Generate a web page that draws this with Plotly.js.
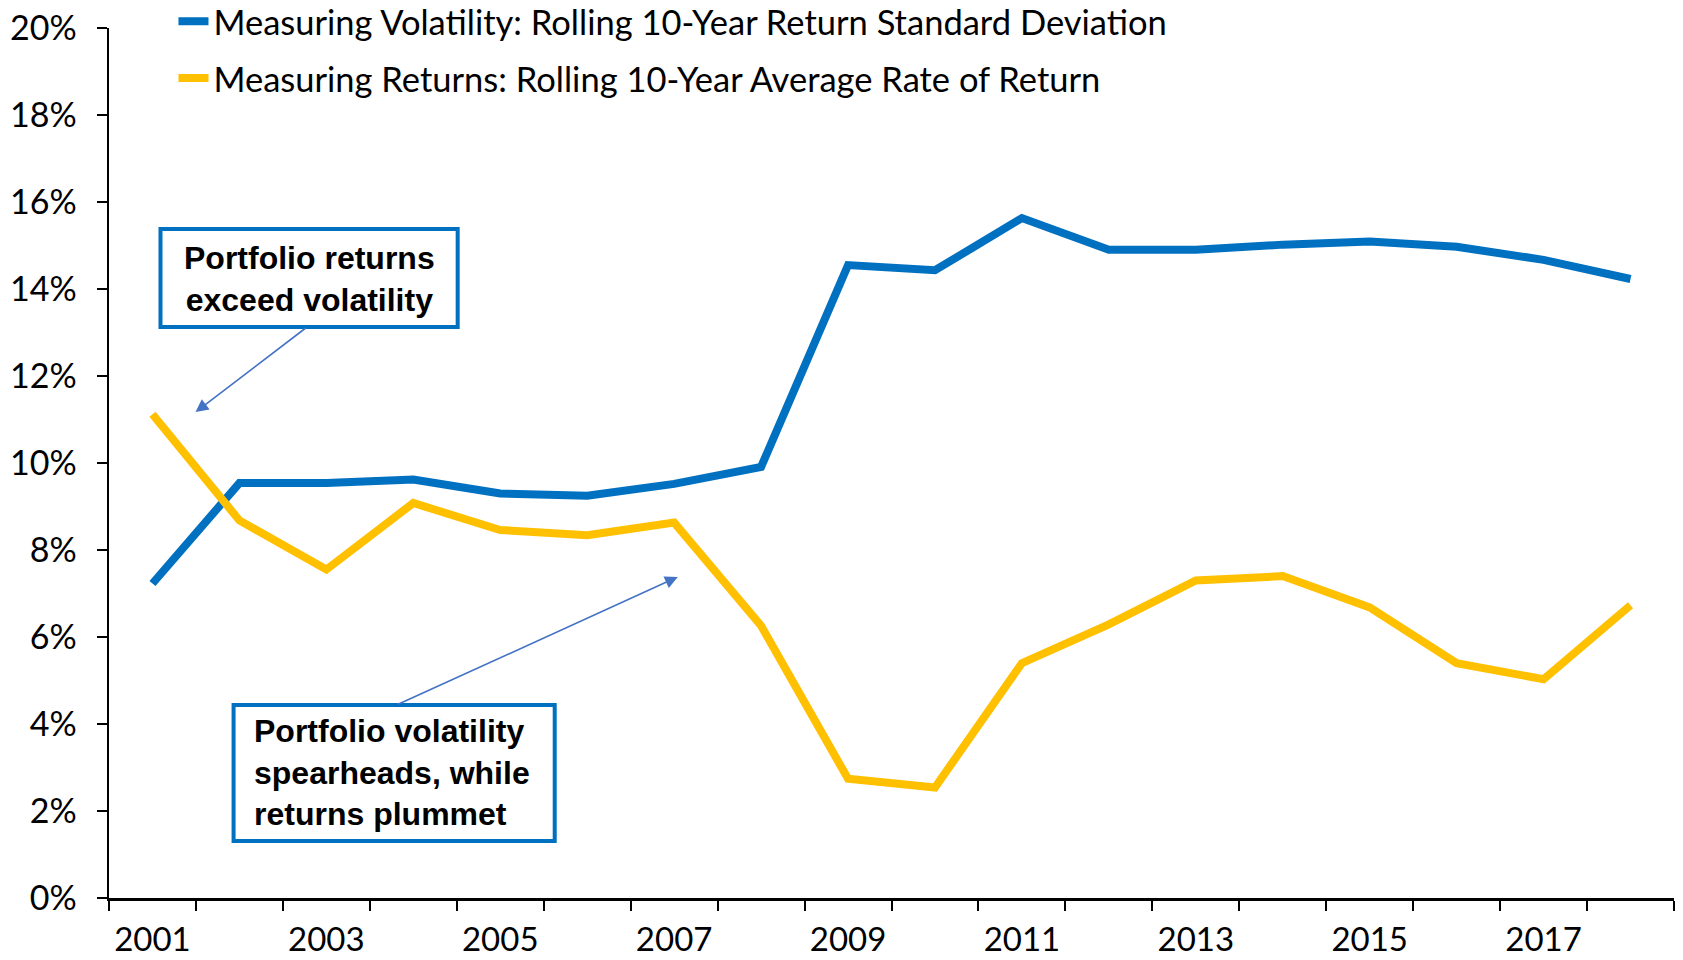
<!DOCTYPE html>
<html>
<head>
<meta charset="utf-8">
<script src="https://cdn.plot.ly/plotly-3.0.1.min.js"></script>
<style>html,body{margin:0;padding:0;background:#fff;}#chart{width:1683px;height:960px;}</style>
</head>
<body>
<div id="chart"></div>
<script>
const years = [2001,2002,2003,2004,2005,2006,2007,2008,2009,2010,2011,2012,2013,2014,2015,2016,2017,2018];
const volatility = [0.0723,0.0954,0.0954,0.0962,0.0930,0.0925,0.0952,0.0991,0.1455,0.1443,0.1563,0.1490,0.1490,0.1502,0.1509,0.1497,0.1467,0.1423];
const returns = [0.1112,0.0868,0.0755,0.0908,0.0846,0.0834,0.0863,0.0626,0.0274,0.0254,0.0540,0.0629,0.0730,0.0740,0.0668,0.0540,0.0503,0.0673];
const seriesNames = ["Measuring Volatility: Rolling 10-Year Return Standard Deviation","Measuring Returns: Rolling 10-Year Average Rate of Return"];
const labelYears = [2001,2003,2005,2007,2009,2011,2013,2015,2017];
const yTicks = [0,0.02,0.04,0.06,0.08,0.10,0.12,0.14,0.16,0.18,0.20];

const boundaries = years.map(y => y - 0.5).concat([years[years.length-1] + 0.5]);

const traces = [
  {x: years, y: volatility, name: seriesNames[0], type: 'scatter', mode: 'lines',
   line: {color: '#0070C0', width: 8}, legendgroup: 'a'},
  {x: years, y: returns, name: seriesNames[1], type: 'scatter', mode: 'lines',
   line: {color: '#FFC000', width: 8}, legendgroup: 'b'}
];

const annFont = {family: 'Liberation Sans, Arial, sans-serif', size: 32, color: '#000'};

const layout = {
  width: 1683, height: 960,
  margin: {l: 109, r: 9, t: 28, b: 62, autoexpand: false},
  paper_bgcolor: '#fff', plot_bgcolor: '#fff',
  font: {family: 'Lato, sans-serif', size: 34, color: '#000'},
  showlegend: true,
  legend: {x: 0.0412, xanchor: 'left', y: 1.041, yanchor: 'top', bgcolor: 'rgba(0,0,0,0)',
           font: {size: 34.5, color: '#000'}, tracegroupgap: 9, traceorder: 'grouped'},
  xaxis: {type: 'linear', range: [years[0]-0.5, years[years.length-1]+0.5],
          tickmode: 'array', tickvals: labelYears, ticktext: labelYears.map(String),
          ticks: '', showgrid: false, zeroline: false, showline: true, linecolor: '#000', linewidth: 2.5,
          ticklabelstandoff: 11, tickfont: {size: 33},
          minor: {tickmode: 'array', tickvals: boundaries, ticks: 'outside', ticklen: 10, tickwidth: 2, tickcolor: '#000', showgrid: false}},
  yaxis: {range: [0, 0.2], tickmode: 'array', tickvals: yTicks, tickformat: '.0%',
          ticks: 'outside', ticklen: 10, tickwidth: 2, tickcolor: '#000',
          showgrid: false, zeroline: false, showline: true, linecolor: '#000', linewidth: 2.5,
          ticklabelstandoff: 13, tickfont: {size: 34}},
  shapes: [
    {type: 'rect', xref: 'paper', yref: 'paper', x0: 0.0329, x1: 0.2228, y0: 0.6563, y1: 0.7690,
     line: {color: '#0070C0', width: 4}, fillcolor: '#fff', layer: 'above'},
    {type: 'rect', xref: 'paper', yref: 'paper', x0: 0.0796, x1: 0.2848, y0: 0.0655, y1: 0.2218,
     line: {color: '#0070C0', width: 4}, fillcolor: '#fff', layer: 'above'}
  ],
  annotations: [
    {xref: 'paper', yref: 'paper', x: 0.1278, y: 0.7110, xanchor: 'center', yanchor: 'middle',
     text: '<b>Portfolio returns<br>exceed volatility</b>', showarrow: false, align: 'center', font: annFont},
    {xref: 'paper', yref: 'paper', x: 0.0912, y: 0.1437, xanchor: 'left', yanchor: 'middle',
     text: '<b>Portfolio volatility<br>spearheads, while<br>returns plummet</b>', showarrow: false, align: 'left', font: annFont},
    {xref: 'x', yref: 'y', x: 2001.495, y: 0.1117, axref: 'x', ayref: 'y', ax: 2002.78, ay: 0.1313,
     text: '', showarrow: true, arrowhead: 2, arrowsize: 1.6, arrowwidth: 1.6, arrowcolor: '#4472C4', standoff: 0, startstandoff: 0},
    {xref: 'x', yref: 'y', x: 2007.042, y: 0.0738, axref: 'x', ayref: 'y', ax: 2003.808, ay: 0.04437,
     text: '', showarrow: true, arrowhead: 2, arrowsize: 1.6, arrowwidth: 1.6, arrowcolor: '#4472C4', standoff: 0, startstandoff: 0}
  ]
};

Plotly.newPlot('chart', traces, layout, {displayModeBar: false, staticPlot: true});
</script>
</body>
</html>
